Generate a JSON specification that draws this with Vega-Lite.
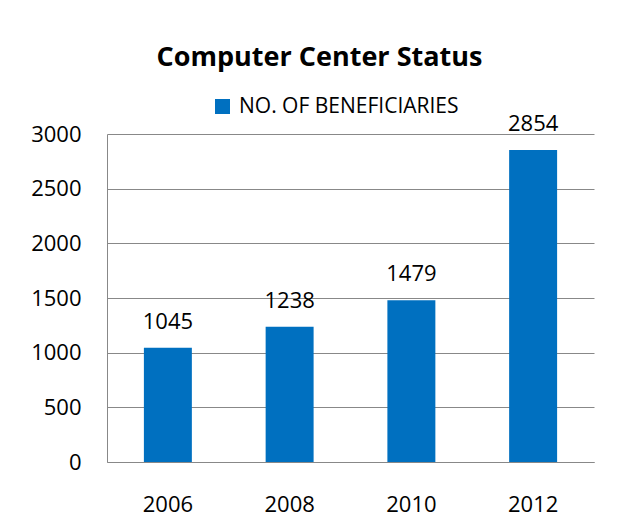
{
  "$schema": "https://vega.github.io/schema/vega-lite/v6.json",
  "autosize": "none",
  "width": 487,
  "height": 328,
  "padding": {"left": 107, "top": 134, "right": 25, "bottom": 58},
  "background": "white",
  "title": {
    "text": "Computer Center Status",
    "font": "Open Sans",
    "fontSize": 27,
    "fontWeight": "bold",
    "color": "black",
    "anchor": "middle",
    "frame": "group",
    "dx": -31,
    "baseline": "alphabetic",
    "offset": 3
  },
  "data": {
    "values": [
      {"year": "2006", "value": 1045, "series": "NO. OF BENEFICIARIES"},
      {"year": "2008", "value": 1238, "series": "NO. OF BENEFICIARIES"},
      {"year": "2010", "value": 1479, "series": "NO. OF BENEFICIARIES"},
      {"year": "2012", "value": 2854, "series": "NO. OF BENEFICIARIES"}
    ]
  },
  "encoding": {
    "x": {
      "field": "year",
      "type": "nominal",
      "sort": null,
      "scale": {"paddingInner": 0.606, "paddingOuter": 0.303},
      "axis": {
        "title": null,
        "labelAngle": 0,
        "ticks": false,
        "domainColor": "#888888",
        "labelFont": "Open Sans",
        "labelFontSize": 22,
        "labelColor": "black",
        "labelPadding": 32
      }
    },
    "y": {
      "field": "value",
      "type": "quantitative",
      "scale": {"domain": [0, 3000]},
      "axis": {
        "title": null,
        "values": [0, 500, 1000, 1500, 2000, 2500, 3000],
        "format": "d",
        "ticks": false,
        "domain": true,
        "domainColor": "#888888",
        "gridColor": "#888888",
        "gridWidth": 1,
        "labelFont": "Open Sans",
        "labelFontSize": 22,
        "labelColor": "black",
        "labelPadding": 26
      }
    }
  },
  "layer": [
    {
      "mark": {"type": "bar", "color": "#0070C0"},
      "encoding": {
        "color": {
          "field": "series",
          "type": "nominal",
          "scale": {"range": ["#0070C0"]},
          "legend": {
            "title": null,
            "orient": "none",
            "legendX": 105,
            "legendY": -38,
            "padding": 0,
            "symbolType": "square",
            "symbolSize": 225,
            "symbolStrokeWidth": 0,
            "symbolFillColor": "#0070C0",
            "labelFont": "Open Sans",
            "labelFontSize": 21,
            "labelColor": "black",
            "labelOffset": 6,
            "labelLimit": 0
          }
        }
      }
    },
    {
      "mark": {
        "type": "text",
        "baseline": "alphabetic",
        "dy": -19,
        "font": "Open Sans",
        "fontSize": 22,
        "color": "black"
      },
      "encoding": {"text": {"field": "value", "type": "quantitative", "format": "d"}}
    }
  ],
  "config": {"view": {"stroke": null}}
}
